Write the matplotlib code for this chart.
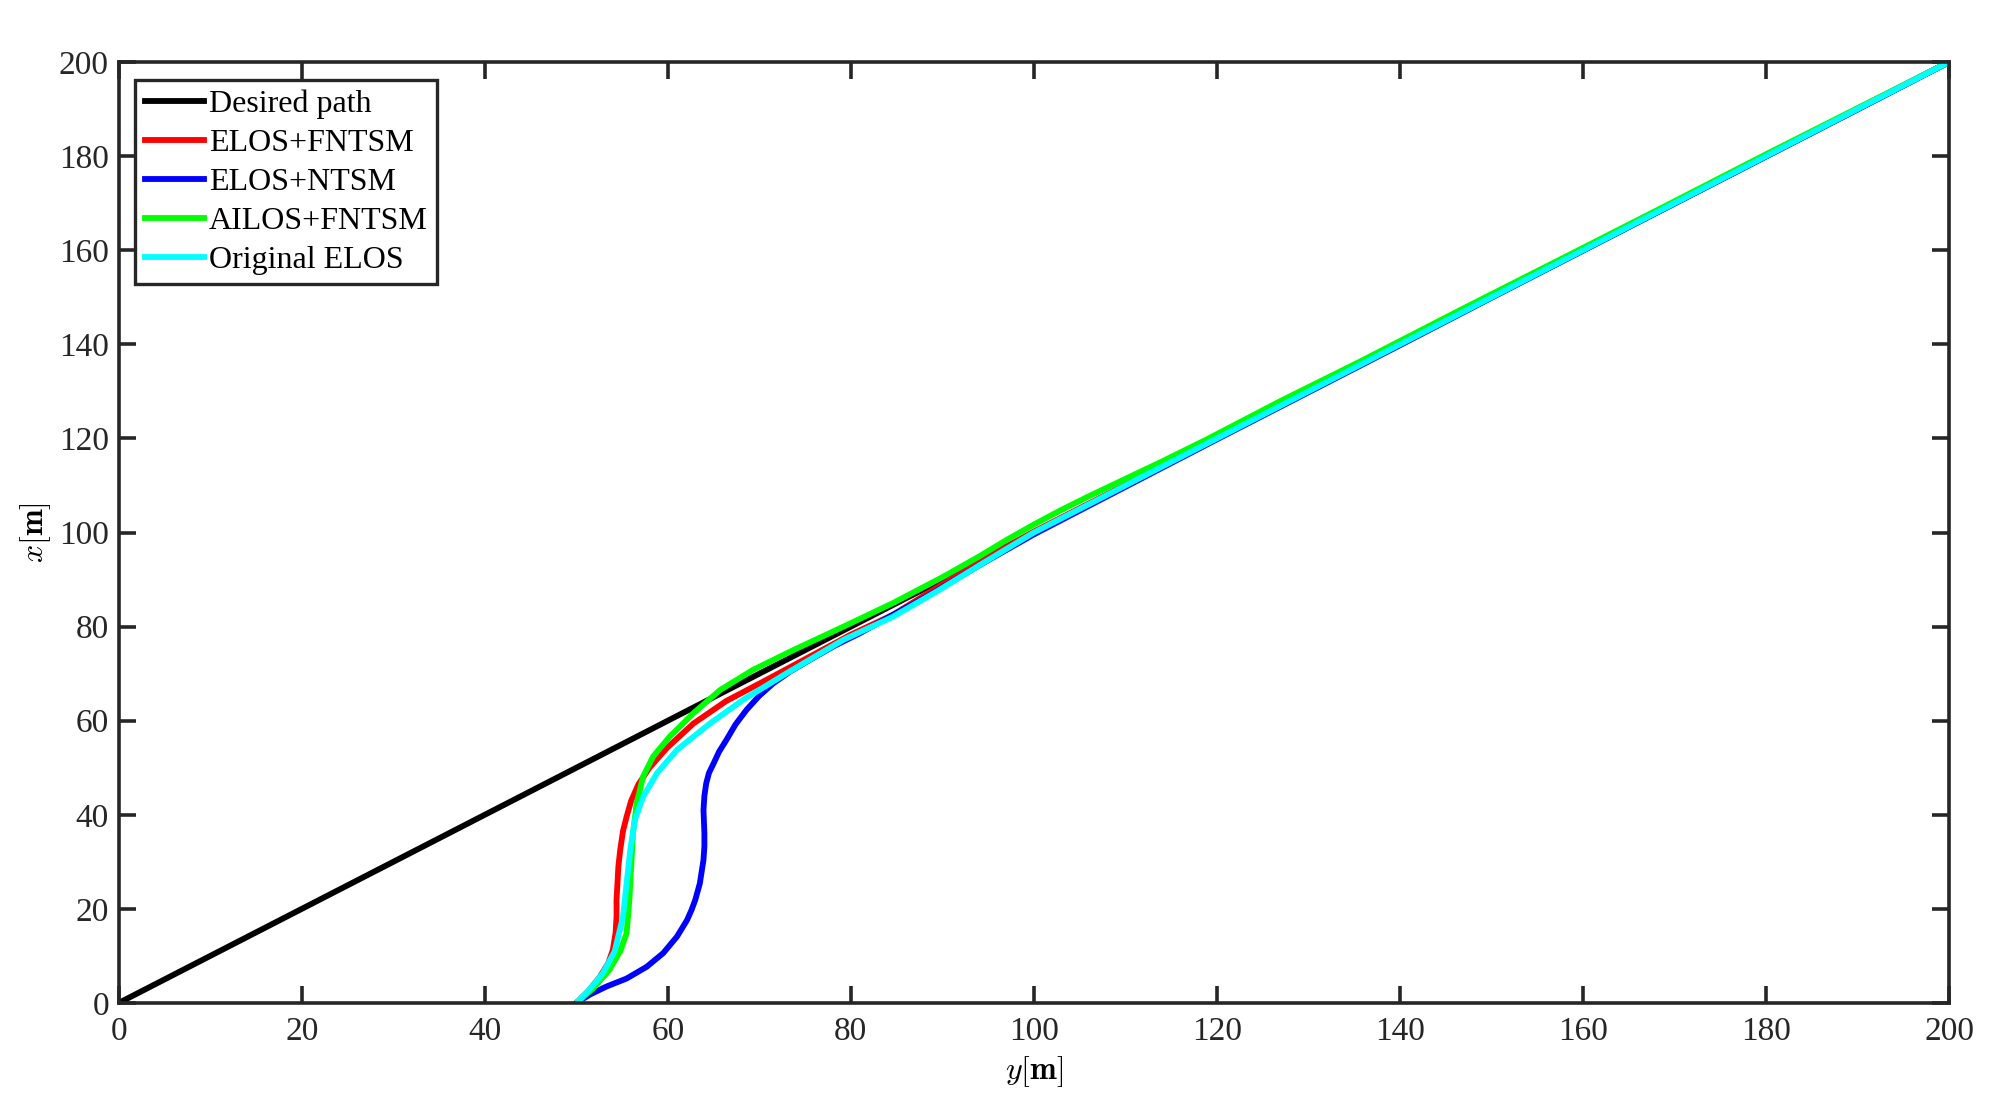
import matplotlib
matplotlib.use('Agg')
import matplotlib.pyplot as plt

# horizontal axis is y [m], vertical axis is x [m]
desired_y = [0, 200]
desired_x = [0, 200]

fntsm_y = [50.0, 51.3, 52.6, 53.5, 54.0, 54.3, 54.4, 54.4, 54.5, 54.6, 54.8, 55.1, 55.5, 56.0, 56.8,
           58.0, 59.9, 62.8, 66.4, 70.8, 75.5, 80.0, 84.6, 89.0, 94.1, 100.0, 110.0, 120.0,
           130.0, 140.0, 150.0, 160.0, 170.0, 180.0, 190.0, 200.0]
fntsm_x = [0.0, 2.5, 5.6, 8.5, 11.3, 15.0, 18.3, 22.0, 25.4, 29.0, 32.5, 36.5, 39.6, 43.0, 46.5,
           50.0, 54.2, 59.4, 64.2, 68.7, 73.6, 78.3, 82.5, 87.8, 93.8, 100.2, 110.1, 120.1,
           130.1, 140.2, 150.1, 160.1, 170.1, 180.1, 190.1, 200.0]

ntsm_y = [50.0, 51.5, 53.3, 55.5, 57.7, 59.5, 61.0, 62.1, 62.6, 63.0, 63.5, 63.9, 64.0, 64.0, 63.9,
          64.0, 64.2, 64.5, 65.0, 65.6, 66.4, 67.4, 68.6, 70.0, 71.5, 73.4, 75.5, 78.1, 81.0,
          84.5, 88.3, 94.1, 100.0, 110.0, 120.0, 130.0, 140.0, 150.0, 160.0, 170.0, 180.0,
          190.0, 200.0]
ntsm_x = [0.0, 1.8, 3.5, 5.2, 7.7, 10.6, 14.1, 17.6, 19.8, 21.9, 25.4, 30.4, 33.3, 36.1, 41.0,
          44.0, 46.7, 48.9, 50.9, 53.4, 55.9, 59.2, 62.3, 65.3, 67.9, 70.5, 72.9, 75.8, 78.6,
          82.4, 86.4, 93.1, 99.6, 109.7, 119.8, 129.8, 139.8, 149.9, 159.9, 169.9, 179.9,
          189.9, 200.0]

ailos_y = [50.0, 51.8, 53.6, 54.8, 55.5, 55.8, 56.0, 56.2, 56.6, 57.3, 58.4, 60.2, 62.8, 65.7,
           69.3, 73.7, 79.2, 84.6, 90.1, 94.1, 97.0, 100.0, 103.0, 106.0, 110.0, 114.0, 118.8,
           127.0, 135.5, 146.6, 160.0, 170.0, 180.0, 190.0, 200.0]
ailos_x = [0.0, 3.0, 7.0, 11.0, 14.8, 21.9, 29.0, 36.1, 42.4, 48.1, 52.4, 56.6, 61.6, 66.5,
           70.8, 75.0, 80.0, 85.0, 90.6, 95.0, 98.4, 101.7, 104.8, 107.7, 111.4, 115.1, 119.7,
           128.0, 136.2, 147.3, 160.5, 170.4, 180.4, 190.2, 200.0]

orig_y = [50.0, 51.5, 52.9, 54.2, 55.1, 55.5, 55.9, 56.4, 57.3, 58.8, 61.0, 64.6, 68.2, 73.0,
          79.2, 84.6, 89.5, 94.1, 100.0, 110.0, 120.0, 130.0, 140.0, 150.0, 160.0, 170.0,
          180.0, 190.0, 200.0]
orig_x = [0.0, 3.0, 6.3, 11.0, 18.3, 25.4, 32.5, 38.9, 43.8, 48.8, 53.8, 59.4, 64.4, 70.1,
          77.2, 82.1, 87.6, 93.1, 100.0, 110.0, 120.0, 130.0, 140.0, 150.0, 160.0, 170.0,
          180.0, 190.0, 200.0]

ticks = list(range(0, 201, 20))

plt.rcParams['font.family'] = ['Liberation Serif', 'DejaVu Serif']
plt.rcParams['mathtext.fontset'] = 'cm'

fig = plt.figure(figsize=(19.98, 11.10), dpi=100)
ax = fig.add_axes([0.0594, 0.0964, 0.9161, 0.8477])

lw = 4.2
ax.plot(desired_y, desired_x, color='black', lw=lw, label='Desired path')
ax.plot(fntsm_y, fntsm_x, color='red', lw=lw, label='ELOS+FNTSM')
ax.plot(ntsm_y, ntsm_x, color='blue', lw=lw, label='ELOS+NTSM')
ax.plot(ailos_y, ailos_x, color='#00ff00', lw=lw, label='AILOS+FNTSM')
ax.plot(orig_y, orig_x, color='cyan', lw=lw, label='Original ELOS')

ax.set_xlim(0, 200)
ax.set_ylim(0, 200)
ax.set_xticks(ticks)
ax.set_yticks(ticks)

for s in ax.spines.values():
    s.set_linewidth(2.6)
    s.set_color('#262626')
ax.tick_params(direction='in', top=True, right=True, length=12, width=2.6,
               color='#262626', labelsize=24, labelcolor='#262626')
ax.tick_params(axis='x', pad=10)
ax.tick_params(axis='y', pad=7)

ax.set_xlabel(r'$y[\mathbf{m}]$', fontsize=23, labelpad=5)
ax.set_ylabel(r'$x[\mathbf{m}]$', fontsize=23, labelpad=4)

leg = ax.legend(loc='upper left', bbox_to_anchor=(0.009, 0.981), borderaxespad=0,
                fontsize=23, handlelength=1.85, handletextpad=0.15, labelspacing=0.3,
                borderpad=0.3, fancybox=False, framealpha=1)
leg.get_frame().set_edgecolor('#262626')
leg.get_frame().set_linewidth(2.4)

plt.savefig('out.png', dpi=100)
plt.close()
